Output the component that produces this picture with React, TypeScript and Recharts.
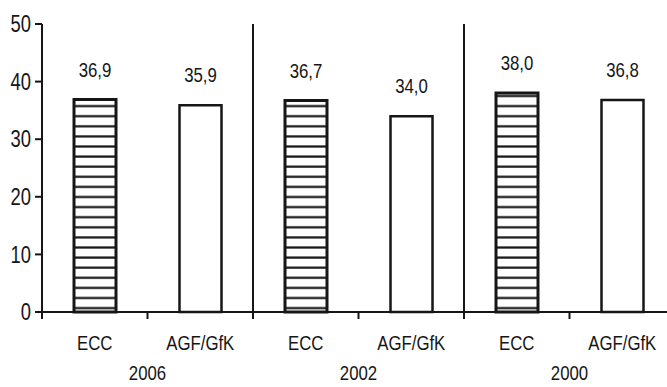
import React from "react";
import { BarChart, Bar, XAxis, YAxis, Cell, LabelList, ReferenceLine } from "recharts";

// Survey shares by source and year
const categories = ["ECC", "AGF/GfK", "ECC", "AGF/GfK", "ECC", "AGF/GfK"];
const years = ["2006", "2006", "2002", "2002", "2000", "2000"];
const values = [36.9, 35.9, 36.7, 34.0, 38.0, 36.8];
const yTicks = [0, 10, 20, 30, 40, 50];
const groupStarts = ["2002 ECC", "2000 ECC"];

const data = categories.map((c, i) => ({
  key: `${years[i]} ${c}`,
  category: c,
  year: years[i],
  value: values[i],
}));

const FONT = "'Liberation Sans', Arial, sans-serif";
const INK = "#161616";
const SQUEEZE = 0.8;

const CHART_W = 676;
const CHART_H = 387;
const MARGIN = { top: 24, right: 1, left: 0, bottom: 0 };
const Y_AXIS_W = 42;
const PLOT_W = CHART_W - MARGIN.left - MARGIN.right - Y_AXIS_W;
const HALF_BAND = PLOT_W / categories.length / 2;

const fmt = (v: number) => v.toFixed(1).replace(".", ",");

// Condensed text: regular sans squeezed horizontally around its anchor point
function NarrowText({
  x,
  y,
  anchor = "middle",
  size,
  children,
}: {
  x: number;
  y: number;
  anchor?: "start" | "middle" | "end";
  size: number;
  children: React.ReactNode;
}) {
  return (
    <text
      transform={`translate(${x},${y}) scale(${SQUEEZE},1)`}
      x={0}
      y={0}
      textAnchor={anchor}
      dominantBaseline="central"
      fontFamily={FONT}
      fontSize={size}
      fill={INK}
    >
      {children}
    </text>
  );
}

function CategoryTick(props: any) {
  const { x, y, index } = props;
  const item = data[index] || { category: "", year: "" };
  const isLast = index === data.length - 1;
  return (
    <g>
      <line x1={x - HALF_BAND} x2={x - HALF_BAND} y1={y} y2={y + 7} stroke={INK} strokeWidth={2} />
      {isLast && (
        <line x1={x + HALF_BAND} x2={x + HALF_BAND} y1={y} y2={y + 7} stroke={INK} strokeWidth={2} />
      )}
      <NarrowText x={x} y={y + 31} size={21}>
        {item.category}
      </NarrowText>
      {index % 2 === 0 && (
        <NarrowText x={x + HALF_BAND} y={y + 61} size={21}>
          {item.year}
        </NarrowText>
      )}
    </g>
  );
}

function ValueTick(props: any) {
  const { x, y, payload } = props;
  return (
    <NarrowText x={x} y={y} anchor="end" size={23}>
      {payload.value}
    </NarrowText>
  );
}

function ValueLabel(props: any) {
  const { x, y, width, value } = props;
  return (
    <NarrowText x={x + width / 2} y={y - 30} size={21}>
      {fmt(Number(value))}
    </NarrowText>
  );
}

export default function App() {
  return (
    <div
      style={{
        position: "absolute",
        left: 0,
        top: 0,
        width: 667,
        height: 387,
        overflow: "hidden",
        background: "#fff",
      }}
    >
      <BarChart width={CHART_W} height={CHART_H} data={data} margin={MARGIN}>
        <defs>
          <pattern id="stripes" patternUnits="userSpaceOnUse" width={8} height={10.1}>
            <rect x={0} y={0} width={8} height={10.1} fill="#fff" />
            <rect x={0} y={4} width={8} height={2.2} fill={INK} />
          </pattern>
        </defs>
        <XAxis
          dataKey="key"
          interval={0}
          height={75}
          tickSize={0}
          tickMargin={0}
          tickLine={false}
          axisLine={{ stroke: INK, strokeWidth: 2 }}
          tick={<CategoryTick />}
        />
        <YAxis
          domain={[0, 50]}
          ticks={yTicks}
          width={Y_AXIS_W}
          tickSize={7}
          tickMargin={4}
          interval={0}
          axisLine={{ stroke: INK, strokeWidth: 2 }}
          tickLine={{ stroke: INK, strokeWidth: 2 }}
          tick={<ValueTick />}
        />
        {groupStarts.map((k) => (
          <ReferenceLine key={k} x={k} position="start" stroke={INK} strokeWidth={2} />
        ))}
        <Bar dataKey="value" barSize={42} isAnimationActive={false}>
          {data.map((d, i) => (
            <Cell
              key={d.key}
              fill={d.category === "ECC" ? "url(#stripes)" : "#fff"}
              stroke={INK}
              strokeWidth={d.category === "ECC" ? 3 : 2.5}
            />
          ))}
          <LabelList dataKey="value" content={<ValueLabel />} />
        </Bar>
      </BarChart>
    </div>
  );
}
